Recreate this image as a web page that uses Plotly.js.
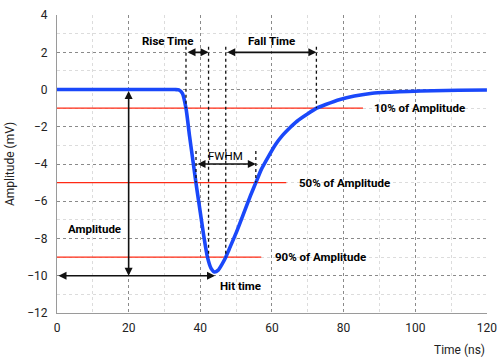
<!DOCTYPE html>
<html><head><meta charset="utf-8">
<script src="https://cdn.plot.ly/plotly-3.0.1.min.js"></script>
<style>html,body{margin:0;padding:0;background:#fff}#chart{width:497px;height:358px}</style>
</head><body><div id="chart"></div>
<script>
// Pulse signal
var timeNs = [0,10,20,30,33,34,35,36,37,38,39,40,41,42,43,44,45,46,47,48,50,52,54,55.5,57,59,61,63,65,67,70,72.5,75,79,83,88,93,98,105,112,120];
var amplitudeMv = [0,0,0,0,0,-0.02,-0.2,-1.0,-2.5,-3.9,-5.3,-6.6,-7.9,-9.0,-9.6,-9.8,-9.7,-9.4,-9.05,-8.6,-7.7,-6.7,-5.7,-5.0,-4.3,-3.6,-2.95,-2.45,-2.05,-1.7,-1.3,-1.0,-0.8,-0.53,-0.35,-0.2,-0.14,-0.1,-0.06,-0.04,-0.02];

// Threshold levels (fraction of amplitude)
var levelValues = [-1, -5, -9];
var levelEnds = [85.4, 64, 57];
var levelLabels = ['10% of Amplitude', '50% of Amplitude', '90% of Amplitude'];

// Characteristic times (ns)
var riseStart = 36.0, riseEnd = 42.3;
var fallStart = 47.1, fallEnd = 72.4;
var fwhmStart = 38.8, fwhmEnd = 55.5;
var hitTime = 44.1;
var peakAmplitude = -10;

var traces = [];
levelValues.forEach(function(v, i){
  traces.push({x:[0, levelEnds[i]], y:[v, v], mode:'lines', line:{color:'#ff2a14', width:1.3}, hoverinfo:'skip', showlegend:false});
});
traces.push({x:timeNs, y:amplitudeMv, mode:'lines', line:{color:'#1a48fa', width:3.6, shape:'spline', smoothing:0.6}, showlegend:false});

var dotLine = {color:'#111', width:1.3, dash:'dot'};
function vline(x, y0, y1){ return {type:'line', xref:'x', yref:'y', x0:x, x1:x, y0:y0, y1:y1, line:dotLine}; }
var shapes = [
  vline(riseStart, 2.3, -1), vline(riseEnd, 2.3, -9),
  vline(fallStart, 2.3, -9), vline(fallEnd, 2.3, -1),
  vline(fwhmStart, -3.3, -5), vline(fwhmEnd, -3.3, -5)
];

var font = 'Roboto, "Open Sans", sans-serif';
function arrow(x0, y0, x1, y1){
  return {x:x1, y:y1, ax:x0, ay:y0, xref:'x', yref:'y', axref:'x', ayref:'y', text:'', showarrow:true,
    arrowhead:2, startarrowhead:2, arrowside:'end+start', arrowsize:1, startarrowsize:1, arrowwidth:1.6, arrowcolor:'#111', standoff:0, startstandoff:0};
}
function label(x, y, t, anchor, bold){
  return {x:x, y:y, xref:'x', yref:'y', text: bold ? '<b>'+t+'</b>' : t, showarrow:false, xanchor:anchor, yanchor:'middle',
    font:{family:font, size:11.5, color:'#000'}};
}
var annotations = [
  arrow(riseStart, 2, riseEnd, 2),
  arrow(fallStart, 2, fallEnd, 2),
  arrow(fwhmStart, -4, fwhmEnd, -4),
  arrow(20, 0, 20, peakAmplitude),
  arrow(0, peakAmplitude, hitTime, peakAmplitude),
  label(30.8, 2.6, 'Rise Time', 'center', true),
  label(60, 2.6, 'Fall Time', 'center', true),
  label(46.9, -3.55, 'FWHM', 'center', false),
  label(10.6, -7.5, 'Amplitude', 'center', true),
  label(51.1, -10.55, 'Hit time', 'center', true),
  label(87.8, levelValues[0], levelLabels[0], 'left', true),
  label(66.9, levelValues[1], levelLabels[1], 'left', true),
  label(60.3, levelValues[2], levelLabels[2], 'left', true),
  {x:1, y:-0.125, xref:'paper', yref:'paper', text:'Time (ns)', showarrow:false, xanchor:'right', yanchor:'middle',
   font:{family:font, size:12, color:'#222'}}
];

var layout = {
  width:497, height:358,
  margin:{l:57, r:10, t:15, b:45},
  paper_bgcolor:'#fff', plot_bgcolor:'#fff',
  font:{family:font, size:12, color:'#222'},
  showlegend:false,
  xaxis:{range:[0,120.02], dtick:20, tick0:0, showgrid:true, gridcolor:'#8a8a8a', griddash:'dot', gridwidth:1,
    minor:{dtick:10, showgrid:true, gridcolor:'#dcdcdc', gridwidth:1},
    zeroline:false, showline:true, linecolor:'#9a9a9a', linewidth:1, ticks:'', ticklabelstandoff:4,
    ticklabeloverflow:'allow', tickfont:{family:font, size:12, color:'#222'}},
  yaxis:{range:[-12,4.005], dtick:2, tick0:0, showgrid:true, gridcolor:'#8a8a8a', griddash:'dot', gridwidth:1,
    minor:{dtick:1, showgrid:true, gridcolor:'#dcdcdc', gridwidth:1},
    zeroline:false, showline:true, linecolor:'#9a9a9a', linewidth:1, ticks:'', ticklabelstandoff:6,
    ticklabeloverflow:'allow', tickfont:{family:font, size:12, color:'#222'},
    title:{text:'Amplitude (mV)', font:{family:font, size:12, color:'#222'}, standoff:10}},
  shapes:shapes,
  annotations:annotations
};
Plotly.newPlot('chart', traces, layout, {displayModeBar:false, staticPlot:true});
</script></body></html>
